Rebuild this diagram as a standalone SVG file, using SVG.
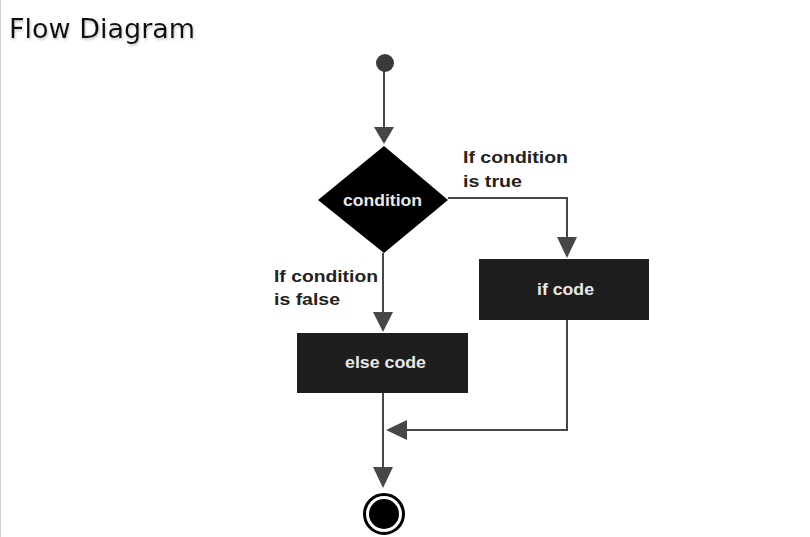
<svg xmlns="http://www.w3.org/2000/svg" width="810" height="537" viewBox="0 0 810 537">
<defs>
<style>
.lbl{font-family:"Liberation Sans",Arial,sans-serif;font-weight:bold;font-size:16.5px;fill:#222}
.in{font-family:"Liberation Sans",Arial,sans-serif;font-weight:bold;font-size:16px;fill:#e8e8e8}
.ln{fill:none;stroke:#474747;stroke-width:2}
.ah{fill:#474747}
.box{fill:#1e1e1e}
</style>
<filter id="sh" x="-5%" y="-20%" width="110%" height="150%">
<feDropShadow dx="1" dy="2" stdDeviation="1.2" flood-color="#999" flood-opacity="0.5"/>
</filter>
</defs>
<rect x="0" y="0" width="810" height="537" fill="#fff"/>
<line x1="0.5" y1="0" x2="0.5" y2="537" stroke="#d0d0d0" stroke-width="1"/>
<text x="9" y="38" font-family="DejaVu Sans,Verdana,sans-serif" font-size="27" fill="#111" filter="url(#sh)">Flow Diagram</text>

<g id="connectors">
<line class="ln" x1="384" y1="70" x2="384" y2="130"/>
<polygon class="ah" points="374,127 394,127 384,144"/>
<polyline class="ln" points="448,198 567,198 567,240"/>
<polygon class="ah" points="557,237 577,237 567,258"/>
<line class="ln" x1="383" y1="253" x2="383" y2="315"/>
<polygon class="ah" points="373,312 393,312 383,332"/>
<polyline class="ln" points="567,320 567,430 404,430"/>
<polygon class="ah" points="407,420 407,440 386,430"/>
<line class="ln" x1="383" y1="393" x2="383" y2="470"/>
<polygon class="ah" points="373,467 393,467 383,488"/>
</g>

<g id="start">
<circle cx="385" cy="63" r="9" fill="#3a3a3a"/>
</g>

<g id="condition">
<polygon points="384,146 448,200 384,253 318,200" fill="#000"/>
<text class="in" x="343" y="206" textLength="79" lengthAdjust="spacingAndGlyphs">condition</text>
</g>

<g id="if-code">
<rect class="box" x="479" y="259" width="170" height="61"/>
<text class="in" x="537" y="295" textLength="57" lengthAdjust="spacingAndGlyphs">if code</text>
</g>

<g id="else-code">
<rect class="box" x="297" y="333" width="171" height="60"/>
<text class="in" x="345" y="368" textLength="81" lengthAdjust="spacingAndGlyphs">else code</text>
</g>

<g id="end">
<circle cx="384" cy="514" r="19.5" fill="#fff" stroke="#000" stroke-width="3"/>
<circle cx="384" cy="514" r="15" fill="#000"/>
</g>

<g id="labels">
<text class="lbl" x="463" y="163" textLength="105" lengthAdjust="spacingAndGlyphs">If condition</text>
<text class="lbl" x="463" y="187" textLength="59" lengthAdjust="spacingAndGlyphs">is true</text>
<text class="lbl" x="274" y="282" textLength="104" lengthAdjust="spacingAndGlyphs">If condition</text>
<text class="lbl" x="274" y="305" textLength="66" lengthAdjust="spacingAndGlyphs">is false</text>
</g>
</svg>
